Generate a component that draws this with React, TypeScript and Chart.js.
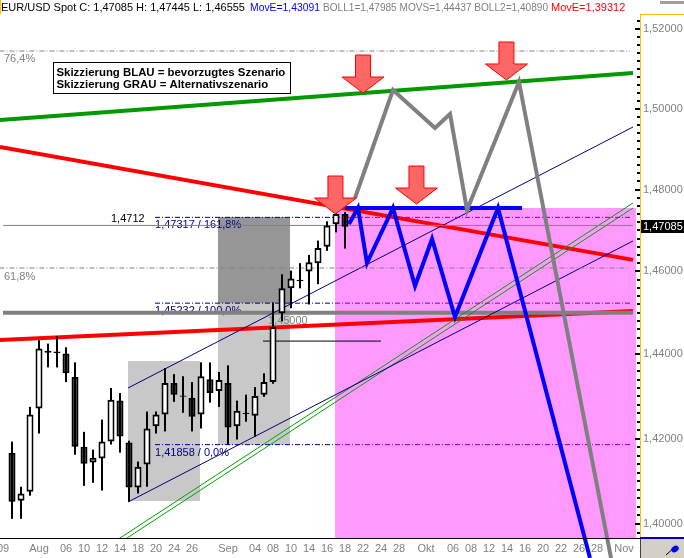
import React, { useEffect, useRef } from "react";
import { Chart, registerables } from "chart.js";

Chart.register(...registerables);

const FONT = 'Arial, "Liberation Sans", sans-serif';

// trading-day index: 0 = Mon 3 Aug 2009 (one index per trading day)
const FIRST_CANDLE = -3;
const opens = [1.4167, 1.4054, 1.4075, 1.4271, 1.4404, 1.4403, 1.4402, 1.4346, 1.4181, 1.4144, 1.4153, 1.4193, 1.4290, 1.4191, 1.4085, 1.4139, 1.4229, 1.4257, 1.4332, 1.4302, 1.4297, 1.4257, 1.4341, 1.4313, 1.4332, 1.4229, 1.4258, 1.4254, 1.4304, 1.4334, 1.4499, 1.4559, 1.4576, 1.4600, 1.4620, 1.4660, 1.4715, 1.4740];
const highs = [1.4193, 1.4087, 1.4275, 1.4434, 1.4426, 1.4443, 1.4417, 1.4381, 1.4216, 1.4174, 1.4245, 1.4320, 1.4308, 1.4195, 1.4146, 1.4264, 1.4264, 1.4367, 1.4353, 1.4348, 1.4334, 1.4381, 1.4381, 1.4358, 1.4374, 1.4290, 1.4304, 1.4322, 1.4355, 1.4525, 1.4593, 1.4602, 1.4620, 1.4640, 1.4675, 1.4722, 1.4750, 1.47445];
const lows = [1.4012, 1.4012, 1.4066, 1.4212, 1.4369, 1.4369, 1.4334, 1.4162, 1.4089, 1.4096, 1.4078, 1.4186, 1.4167, 1.4052, 1.4071, 1.4087, 1.4212, 1.4217, 1.4287, 1.4261, 1.4217, 1.4224, 1.4285, 1.4275, 1.4186, 1.4198, 1.4240, 1.4205, 1.4299, 1.4330, 1.4480, 1.4511, 1.4559, 1.4520, 1.4569, 1.4650, 1.4695, 1.46555];
const closes = [1.4052, 1.4071, 1.4257, 1.4414, 1.4409, 1.4407, 1.4355, 1.4181, 1.4141, 1.4155, 1.4193, 1.4292, 1.4205, 1.4085, 1.4134, 1.4224, 1.4257, 1.4332, 1.4304, 1.4299, 1.4252, 1.4348, 1.4308, 1.4339, 1.4226, 1.4266, 1.4261, 1.4301, 1.4334, 1.4466, 1.4559, 1.4583, 1.4580, 1.4622, 1.4657, 1.4712, 1.4740, 1.47085];

const dateTickIndex = [-4, 0, 3, 5, 7, 9, 11, 13, 15, 17, 21, 24, 26, 28, 30, 32, 34, 36, 38, 40, 43, 46, 48, 50, 52, 54, 56, 58, 60, 62, 65];
const dateTickLabels = ["09", "Aug", "06", "10", "12", "14", "18", "20", "24", "26", "Sep", "04", "08", "10", "14", "16", "18", "22", "24", "28", "Okt", "06", "08", "12", "14", "16", "20", "22", "26", "28", "Nov"];

const priceMajorTicks = [1.40, 1.42, 1.44, 1.46, 1.48, 1.50, 1.52];
const priceMinorStep = 0.002;
const lastPrice = 1.47085;

const X_MIN = -4.3333;
const X_MAX = 66.8889;
const Y_MIN = 1.39675;
const Y_MAX = 1.52379;

// trend lines: {x: trading-day index, y: price}
const redFalling = [{ x: -4.3333, y: 1.4905 }, { x: 66.0, y: 1.4628 }];
const redRising = [{ x: -4.3333, y: 1.44346 }, { x: 66.0, y: 1.45043 }];
const greenUpper = [{ x: -4.3333, y: 1.49719 }, { x: 66.0, y: 1.50893 }];
const channelUpper = [{ x: 9.89, y: 1.43199 }, { x: 66.0, y: 1.49545 }];
const channelLower = [{ x: 9.89, y: 1.40513 }, { x: 66.0, y: 1.4674 }];
const greenThinA = [{ x: 7.47, y: 1.39466 }, { x: 66.0, y: 1.47669 }];
const greenThinB = [{ x: 8.25, y: 1.39466 }, { x: 66.0, y: 1.47546 }];

// horizontal levels
const level764 = 1.51445;
const level618 = 1.46083;
const level14712 = 1.4712;
const level145 = 1.45;
const level14432 = 1.4432;
const fibLevels = [1.47317, 1.45232, 1.41858];
const fibTexts = ["1,47317 / 161,8%", "1,45232 / 100,0%", "1,41858 / 0,0%"];

// scenarios
const blueResistance = [{ x: 34.0, y: 1.47546 }, { x: 53.67, y: 1.47546 }];
const bluePath = [
  { x: 34.44, y: 1.47154 }, { x: 35.44, y: 1.47546 }, { x: 36.44, y: 1.46204 },
  { x: 39.33, y: 1.47546 }, { x: 41.78, y: 1.45647 }, { x: 43.67, y: 1.46788 },
  { x: 46.22, y: 1.44898 }, { x: 51.0, y: 1.47546 }, { x: 61.22, y: 1.39211 },
];
const grayPath = [
  { x: 35.11, y: 1.47791 }, { x: 39.33, y: 1.50467 }, { x: 44.0, y: 1.4952 },
  { x: 45.67, y: 1.49868 }, { x: 47.56, y: 1.47497 }, { x: 53.33, y: 1.50668 },
  { x: 63.56, y: 1.39211 },
];
const arrowTips = [
  { x: 36.0, y: 1.50392 }, { x: 51.94, y: 1.50718 },
  { x: 41.94, y: 1.47644 }, { x: 32.94, y: 1.47399 },
];

// shaded zones
const zoneX0 = [32.89, 19.89, 19.89, 9.89];
const zoneX1 = [66.33, 27.89, 27.89, 17.89];
const zoneTop = [1.47546, 1.47317, 1.45232, 1.43843];
const zoneBottom = [1.38, 1.45232, 1.41858, 1.40536];
const zoneColors = ["#FF99FF", "#969696", "#C8C8C8", "#C8C8C8"];

const noteLines = ["Skizzierung BLAU = bevorzugtes Szenario", "Skizzierung GRAU = Alternativszenario"];
const noteAnchor = { x: 1.556, y: 1.51169 };

const headerParts: [string, string, number][] = [
  ["EUR/USD Spot C: 1,47085 H: 1,47445 L: 1,46555", "#000000", 249],
  ["MovE=1,43091", "#0000FF", 73],
  ["BOLL1=1,47985 MOVS=1,44437 BOLL2=1,40890", "#808080", 228],
  ["MovE=1,39312", "#FF0000", 200],
];

const fmt = (v: number, d: number) => v.toFixed(d).replace(".", ",");

function hLine(x0: number, x1: number, p: number) {
  return [{ x: x0, y: p }, { x: x1, y: p }];
}

function lineDs(data: any[], color: string, width: number, extra: any = {}) {
  return {
    type: "line",
    data,
    borderColor: color,
    borderWidth: width,
    pointRadius: 0,
    pointHoverRadius: 0,
    fill: false,
    tension: 0,
    order: 10,
    ...extra,
  };
}

const DASHDOT = [5, 2, 1, 2];

function drawArrow(ctx: CanvasRenderingContext2D, x: number, tip: number) {
  const sw = 7.5, hw = 21, hh = 16, total = 38;
  ctx.beginPath();
  ctx.moveTo(x - sw, tip - total);
  ctx.lineTo(x + sw, tip - total);
  ctx.lineTo(x + sw, tip - hh);
  ctx.lineTo(x + hw, tip - hh);
  ctx.lineTo(x, tip);
  ctx.lineTo(x - hw, tip - hh);
  ctx.lineTo(x - sw, tip - hh);
  ctx.closePath();
  ctx.fillStyle = "#FF6666";
  ctx.fill();
  ctx.strokeStyle = "#FF0000";
  ctx.lineWidth = 1;
  ctx.stroke();
}

const overlayPlugin = {
  id: "overlay",
  beforeDatasetsDraw(chart: any) {
    const { ctx, chartArea: ca } = chart;
    const xs = chart.scales.x, ys = chart.scales.y;
    ctx.save();
    ctx.beginPath();
    ctx.rect(ca.left, ca.top, ca.right - ca.left, ca.bottom - ca.top);
    ctx.clip();
    for (let i = 0; i < zoneColors.length; i++) {
      const x0 = xs.getPixelForValue(zoneX0[i]);
      const x1 = xs.getPixelForValue(zoneX1[i]);
      const y0 = ys.getPixelForValue(zoneTop[i]);
      const y1 = ys.getPixelForValue(zoneBottom[i]);
      ctx.fillStyle = zoneColors[i];
      ctx.fillRect(Math.round(x0), Math.round(y0), Math.round(x1) - Math.round(x0), Math.round(y1) - Math.round(y0));
    }
    ctx.font = "11px " + FONT;
    ctx.textBaseline = "middle";
    ctx.textAlign = "left";
    ctx.fillStyle = "#000080";
    fibLevels.forEach((p, i) => {
      ctx.fillText(fibTexts[i], xs.getPixelForValue(12.89), ys.getPixelForValue(p) + 8);
    });
    ctx.fillStyle = "#808080";
    ctx.fillText("76,4%", xs.getPixelForValue(-3.89), ys.getPixelForValue(level764) + 8);
    ctx.fillText("61,8%", xs.getPixelForValue(-3.89), ys.getPixelForValue(level618) + 9);
    ctx.fillText(fmt(level145, 5), xs.getPixelForValue(25.44), ys.getPixelForValue(level145) + 8);
    ctx.fillStyle = "#000000";
    ctx.fillText(fmt(level14712, 4), xs.getPixelForValue(8.0), ys.getPixelForValue(level14712) - 6);
    ctx.restore();
  },
  afterDatasetsDraw(chart: any) {
    const { ctx } = chart;
    const xs = chart.scales.x, ys = chart.scales.y;
    ctx.save();
    arrowTips.forEach((a) => drawArrow(ctx, xs.getPixelForValue(a.x), ys.getPixelForValue(a.y)));
    const bx = Math.round(xs.getPixelForValue(noteAnchor.x)) + 0.5;
    const by = Math.round(ys.getPixelForValue(noteAnchor.y)) + 0.5;
    ctx.fillStyle = "#FFFFFF";
    ctx.fillRect(bx, by, 237, 31);
    ctx.strokeStyle = "#000000";
    ctx.lineWidth = 1;
    ctx.strokeRect(bx, by, 237, 31);
    ctx.fillStyle = "#000000";
    ctx.font = "bold 11.4px " + FONT;
    ctx.textBaseline = "middle";
    ctx.textAlign = "left";
    ctx.fillText(noteLines[0], bx + 3, by + 10);
    ctx.fillText(noteLines[1], bx + 3, by + 22);
    ctx.restore();
  },
  afterDraw(chart: any) {
    const { ctx, chartArea: ca } = chart;
    const ys = chart.scales.y;
    ctx.save();
    ctx.font = "11px " + FONT;
    ctx.textBaseline = "middle";
    ctx.textAlign = "left";
    let hx = 1;
    headerParts.forEach(([t, c, w]) => {
      ctx.fillStyle = c;
      const tw = ctx.measureText(t).width;
      ctx.fillText(t, hx, 8, Math.min(tw, w - 3));
      hx += w;
    });
    ctx.fillStyle = "#FFC000";
    ctx.fillRect(0, 0, 1, 14);
    ctx.fillRect(ca.right - 1, ca.top, 1, ca.bottom - ca.top);
    ctx.fillRect(ca.right - 1, ca.top, 684 - ca.right + 1, 1);
    ctx.fillStyle = "#A0A0A0";
    ctx.fillRect(660, 1, 24, 3);
    ctx.fillStyle = "#000000";
    for (let v = priceMajorTicks[0] - priceMinorStep; v <= Y_MAX; v += priceMinorStep) {
      const y = Math.round(ys.getPixelForValue(v));
      if (y < ca.top || y > ca.bottom) continue;
      const major = priceMajorTicks.some((m) => Math.abs(m - v) < 1e-6);
      const len = major ? 5 : 3;
      ctx.fillRect(ca.right - 1 - len, y - 1, len, 2);
    }
    ctx.fillStyle = "#000000";
    ctx.fillRect(0, ca.bottom, ca.right, 1);
    ctx.fillStyle = "#0000C0";
    ctx.fillRect(ca.right - 1, ca.bottom - 1, 684 - ca.right + 1, 2);
    ctx.fillStyle = "#D4D0C8";
    ctx.fillRect(ca.right, ca.bottom + 1, 684 - ca.right, 20);
    ctx.fillStyle = "#404040";
    ctx.fillRect(ca.right - 1, ca.bottom + 1, 1, 20);
    ctx.strokeStyle = "#000000";
    ctx.lineWidth = 1;
    ctx.beginPath();
    ctx.moveTo(666, 555);
    ctx.lineTo(676, 546);
    ctx.stroke();
    ctx.fillStyle = "#0000FF";
    ctx.beginPath();
    ctx.ellipse(675, 549, 4, 3, -0.6, 0, Math.PI * 2);
    ctx.fill();
    const py = ys.getPixelForValue(lastPrice);
    ctx.fillStyle = "#000000";
    ctx.fillRect(ca.right, Math.round(py) - 7, 684 - ca.right, 13);
    ctx.fillStyle = "#FFFFFF";
    ctx.font = "11px " + FONT;
    ctx.textBaseline = "middle";
    ctx.fillText(fmt(lastPrice, 5), ca.right + 2, py);
    ctx.restore();
  },
};

function App() {
  const ref = useRef<HTMLCanvasElement>(null);
  useEffect(() => {
    document.body.style.margin = "0";
    const canvas = ref.current!;
    const idx = opens.map((_, i) => FIRST_CANDLE + i);
    const wicks = idx.map((x, i) => ({ x, y: [lows[i], highs[i]] }));
    const bodies = idx.map((x, i) => ({ x, y: [opens[i], closes[i]] }));
    const bodyColors = idx.map((_, i) => (closes[i] >= opens[i] ? "#FFFFFF" : "#000000"));

    const datasets: any[] = [
      lineDs(hLine(-4.4, 65.67, level764), "#808080", 1, { borderDash: DASHDOT }),
      lineDs(hLine(-4.4, 65.67, level618), "#808080", 1, { borderDash: DASHDOT }),
      ...fibLevels.map((p) => lineDs(hLine(12.89, 32.89, p), "#000080", 1, { borderDash: DASHDOT })),
      ...fibLevels.map((p) => lineDs(hLine(32.89, 65.67, p), "#8000C0", 1, { borderDash: DASHDOT })),
      lineDs(hLine(-4.0, 66.0, level14712), "#808080", 1),
      lineDs(hLine(24.89, 38.0, level14432), "#000000", 1),
      lineDs(channelUpper, "#000080", 1),
      lineDs(channelLower, "#000080", 1),
      lineDs(greenThinA, "#00A000", 1),
      lineDs(greenThinB, "#00A000", 1),
      lineDs(hLine(-4.0, 66.0, level145), "#808080", 4),
      lineDs(redFalling, "#FF0000", 4),
      lineDs(redRising, "#FF0000", 4),
      lineDs(greenUpper, "#009900", 4),
      {
        type: "bar",
        data: wicks,
        backgroundColor: "#000000",
        borderWidth: 0,
        barThickness: 2,
        grouped: false,
        order: 6,
        inflateAmount: 0,
      },
      {
        type: "bar",
        data: bodies,
        backgroundColor: bodyColors,
        borderColor: "#000000",
        borderWidth: 2,
        borderSkipped: false,
        barThickness: 7,
        grouped: false,
        order: 5,
        inflateAmount: 0,
      },
      lineDs(blueResistance, "#0000FF", 4, { order: 3 }),
      lineDs(grayPath, "#808080", 4, { order: 2, clip: false }),
      lineDs(bluePath, "#0000FF", 4, { order: 1, clip: false }),
    ];

    const chart = new Chart(canvas, {
      type: "bar",
      data: { datasets },
      options: {
        responsive: false,
        devicePixelRatio: 1,
        animation: false,
        events: [],
        layout: { padding: { top: 14, left: 0, right: 0, bottom: 0 }, autoPadding: false },
        plugins: { legend: { display: false }, tooltip: { enabled: false } },
        scales: {
          x: {
            type: "linear",
            min: X_MIN,
            max: X_MAX,
            offset: false,
            bounds: "data",
            grid: { display: false, drawTicks: false },
            border: { display: false },
            afterFit: (s: any) => {
              s.height = 20;
              s.paddingLeft = 0;
              s.paddingRight = 0;
              s.paddingTop = 0;
              s.paddingBottom = 0;
            },
            afterBuildTicks: (s: any) => { s.ticks = dateTickIndex.map((v) => ({ value: v })); },
            ticks: {
              autoSkip: false,
              maxRotation: 0,
              padding: 4,
              color: "#808080",
              font: { size: 11, family: FONT },
              callback: (_v: any, i: number) => dateTickLabels[i],
            },
          },
          y: {
            type: "logarithmic",
            position: "right",
            min: Y_MIN,
            max: Y_MAX,
            bounds: "data",
            grid: { display: false, drawTicks: false },
            border: { display: false },
            afterFit: (s: any) => {
              s.width = 43;
              s.paddingLeft = 0;
              s.paddingRight = 0;
              s.paddingTop = 0;
              s.paddingBottom = 0;
            },
            afterBuildTicks: (s: any) => { s.ticks = priceMajorTicks.map((v) => ({ value: v })); },
            ticks: {
              autoSkip: false,
              padding: 2,
              color: "#808080",
              font: { size: 11, family: FONT },
              callback: (v: any) => fmt(Number(v), 5),
            },
          },
        },
      } as any,
      plugins: [overlayPlugin],
    } as any);
    return () => chart.destroy();
  }, []);
  return (
    <div style={{ position: "absolute", left: 0, top: 0 }}>
      <canvas ref={ref} width={684} height={558} style={{ display: "block", width: 684, height: 558 }} />
    </div>
  );
}

export default App;
